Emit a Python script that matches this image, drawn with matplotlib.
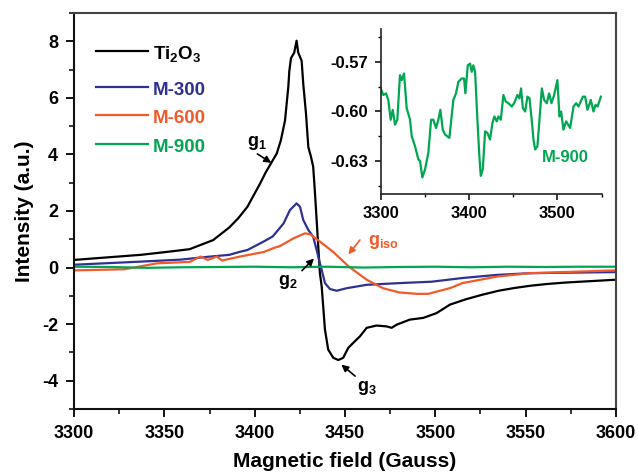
import matplotlib
matplotlib.use("Agg")
import matplotlib.pyplot as plt
from matplotlib.ticker import MultipleLocator
from matplotlib.lines import Line2D

plt.rcParams['font.family'] = ['Liberation Sans', 'DejaVu Sans']
plt.rcParams['font.weight'] = 'bold'
plt.rcParams['axes.unicode_minus'] = False
plt.rcParams['mathtext.fontset'] = 'custom'
plt.rcParams['mathtext.bf'] = 'Liberation Sans:bold'
plt.rcParams['mathtext.rm'] = 'Liberation Sans:bold'
plt.rcParams['mathtext.it'] = 'Liberation Sans:bold'
plt.rcParams['mathtext.default'] = 'bf'

# ---------------- data ----------------
ti_x = [3300, 3337, 3355, 3364, 3377, 3386, 3391, 3396, 3403, 3406, 3410, 3412.2,
        3414.5, 3416.8, 3417.7, 3418.6, 3419.2, 3420.1, 3421.9, 3423.2, 3424.1, 3426.0,
        3426.9, 3428.4, 3429.7, 3431.2, 3432.4, 3433.4, 3434.3, 3435.2, 3436.1, 3437.1,
        3438.9, 3440.7, 3443.5, 3446.3, 3449.0, 3451.8, 3454.6, 3458.3, 3462.0, 3467.5,
        3473.0, 3475.8, 3478.6, 3485.9, 3493.3, 3500.7, 3508.1, 3517, 3526, 3535, 3544,
        3553, 3562, 3572, 3586, 3600]
ti_y = [0.27, 0.45, 0.58, 0.65, 0.97, 1.42, 1.75, 2.15, 2.97, 3.35, 3.79, 4.03,
        4.5, 5.2, 5.79, 6.37, 6.96, 7.4, 7.6, 8.02, 7.6, 7.31,
        6.49, 5.45, 4.26, 3.91, 3.56, 2.62, 1.68, 0.74, -0.19, -0.67,
        -2.19, -2.9, -3.19, -3.27, -3.19, -2.84, -2.66, -2.43, -2.13, -2.05,
        -2.08, -2.13, -2.02, -1.84, -1.78, -1.61, -1.31, -1.12, -0.96, -0.82, -0.72,
        -0.64, -0.58, -0.53, -0.48, -0.43]

m300_x = [3300, 3337, 3359, 3374, 3386, 3392, 3396, 3405, 3410, 3416, 3419.5, 3423.2,
          3425.1, 3426.9, 3429.7, 3432.4, 3434.3, 3436.1, 3437.1, 3438.9, 3441.7, 3445.4,
          3450.9, 3462, 3480, 3498, 3515, 3534, 3552, 3575, 3600]
m300_y = [0.1, 0.21, 0.28, 0.38, 0.45, 0.56, 0.62, 0.92, 1.1, 1.56, 2.03, 2.27,
          2.15, 1.68, 1.33, 1.09, 0.62, 0.15, -0.08, -0.55, -0.76, -0.82,
          -0.73, -0.61, -0.55, -0.5, -0.37, -0.26, -0.2, -0.18, -0.16]

m600_x = [3300, 3328, 3346, 3364, 3370, 3374, 3379, 3382, 3392, 3405, 3411, 3414,
          3421.4, 3427.8, 3430.6, 3436.1, 3443.5, 3452, 3462, 3471, 3480, 3490, 3496,
          3508, 3515, 3534, 3552, 3571, 3600]
m600_y = [-0.1, -0.06, 0.15, 0.2, 0.39, 0.27, 0.39, 0.25, 0.39, 0.55, 0.7, 0.76,
          1.03, 1.21, 1.18, 0.92, 0.55, 0.04, -0.43, -0.73, -0.88, -0.93, -0.93,
          -0.73, -0.55, -0.32, -0.2, -0.16, -0.1]

m900_x = [3300, 3320, 3340, 3360, 3380, 3400, 3420, 3440, 3460, 3480, 3500, 3520,
          3540, 3560, 3580, 3600]
m900_y = [0.03, 0.02, -0.01, 0.01, 0.02, 0.03, 0.01, 0.03, 0.0, 0.02, 0.03, 0.01,
          0.03, 0.02, 0.03, 0.03]

ins_x = [3300, 3303, 3306, 3308.6, 3311.3, 3313.6, 3316.2, 3318.8, 3321.8, 3323.8,
         3326.4, 3329.4, 3333.2, 3335.1, 3338.8, 3342.6, 3344.5, 3347.1, 3350.2, 3353.9,
         3357, 3359.6, 3362.6, 3365.2, 3367.5, 3370.2, 3372.8, 3377.7, 3382.2, 3385.2,
         3387.9, 3391.7, 3394.3, 3395.8, 3398.5, 3401.1, 3403, 3404.8, 3406.8, 3409.4,
         3411.6, 3413.2, 3415.5, 3418.1, 3420.7, 3423.7, 3426.4, 3428.6, 3431.3, 3433.2,
         3435.9, 3438.8, 3441.5, 3444.5, 3448.3, 3450.9, 3454.7, 3456.9, 3458.8, 3460.8,
         3463.4, 3466, 3468.3, 3471, 3472.8, 3474.7, 3477.3, 3479.6, 3482.3, 3484.9,
         3487.9, 3490.5, 3493.2, 3496.2, 3499.9, 3502.2, 3504.1, 3506.7, 3509.8, 3514.3,
         3518.1, 3521.1, 3523.7, 3528.7, 3531.3, 3533.9, 3537.7, 3540.7, 3543, 3545.3,
         3549.1]
ins_y = [-0.586, -0.590, -0.589, -0.593, -0.605, -0.599, -0.608, -0.605, -0.578, -0.581,
         -0.577, -0.598, -0.605, -0.615, -0.621, -0.629, -0.630, -0.640, -0.635, -0.625,
         -0.605, -0.605, -0.610, -0.605, -0.599, -0.611, -0.614, -0.616, -0.593, -0.589,
         -0.582, -0.580, -0.580, -0.589, -0.572, -0.571, -0.576, -0.572, -0.576, -0.605,
         -0.627, -0.639, -0.635, -0.612, -0.613, -0.617, -0.607, -0.603, -0.606, -0.603,
         -0.605, -0.590, -0.594, -0.595, -0.597, -0.595, -0.590, -0.592, -0.586, -0.598,
         -0.600, -0.591, -0.592, -0.606, -0.617, -0.623, -0.621, -0.605, -0.586, -0.593,
         -0.595, -0.589, -0.595, -0.590, -0.581, -0.603, -0.600, -0.611, -0.606, -0.610,
         -0.597, -0.595, -0.597, -0.591, -0.591, -0.599, -0.593, -0.600, -0.596, -0.597,
         -0.591]

labels = ['Ti$_2$O$_3$', 'M-300', 'M-600', 'M-900']
colors = ['#000000', '#2E3192', '#F15A29', '#00A651']

# ---------------- figure ----------------
fig = plt.figure(figsize=(6.38, 4.72), dpi=100)
ax = fig.add_axes([0.116, 0.1335, 0.8495, 0.839])

for xs, ys, lab, c in zip([ti_x, m300_x, m600_x, m900_x],
                          [ti_y, m300_y, m600_y, m900_y], labels, colors):
    ax.plot(xs, ys, color=c, lw=1.6, label=lab)

ax.set_xlim(3300, 3600)
ax.set_ylim(-5, 9)
ax.xaxis.set_major_locator(MultipleLocator(50))
ax.xaxis.set_minor_locator(MultipleLocator(25))
ax.yaxis.set_major_locator(MultipleLocator(2))
ax.yaxis.set_minor_locator(MultipleLocator(1))
ax.tick_params(which='major', direction='out', length=5.5, width=1.3, labelsize=13, pad=6)
ax.tick_params(which='minor', direction='out', length=3.5, width=1.1)
for s in ['left', 'bottom']:
    ax.spines[s].set_linewidth(1.5)
    ax.spines[s].set_color('#111111')
for s in ['top', 'right']:
    ax.spines[s].set_linewidth(1.5)
    ax.spines[s].set_color('#444444')
for t in ax.get_xticklabels() + ax.get_yticklabels():
    t.set_fontweight('bold')

ax.set_xlabel('Magnetic field (Gauss)', fontsize=15, fontweight='bold', labelpad=7.5)
ax.set_ylabel('Intensity (a.u.)', fontsize=15, fontweight='bold', labelpad=6)

# legend (drawn as handles in axes coordinates)
leg_y = [0.904, 0.813, 0.742, 0.669]
for lab, c, yy in zip(labels, colors, leg_y):
    ax.add_line(Line2D([0.0406, 0.1365], [yy, yy], transform=ax.transAxes,
                       color=c, lw=1.6))
    ax.text(0.1458, yy - 0.021, lab, transform=ax.transAxes, color=c,
            fontsize=13.5, fontweight='bold', ha='left', va='baseline')

arrow = dict(arrowstyle='-|>', color='black', lw=1.2, mutation_scale=10)
ax.annotate('', xy=(3410.5, 3.65), xytext=(3400.2, 4.07), arrowprops=arrow)
ax.text(3401.5, 4.4, 'g$_1$', fontsize=13, fontweight='bold', ha='center', va='center')
ax.annotate('', xy=(3433.9, 0.39), xytext=(3425.1, -0.18), arrowprops=arrow)
ax.text(3418.5, -0.5, 'g$_2$', fontsize=13, fontweight='bold', ha='center', va='center')
ax.annotate('', xy=(3446.8, -3.37), xytext=(3456.8, -3.9), arrowprops=arrow)
ax.text(3462, -4.25, 'g$_3$', fontsize=13, fontweight='bold', ha='center', va='center')
arrow_o = dict(arrowstyle='-|>', color='#F15A29', lw=1.2, mutation_scale=10)
ax.annotate('', xy=(3450.9, 0.39), xytext=(3459.2, 1.05), arrowprops=arrow_o)
ax.text(3462.5, 0.92, 'g$_{iso}$', fontsize=13, fontweight='bold', color='#F15A29',
        ha='left', va='center')

# ---------------- inset ----------------
ins = fig.add_axes([0.5967, 0.589, 0.3464, 0.3496])
ins.plot(ins_x, ins_y, color='#00A651', lw=1.6)
ins.set_xlim(3300, 3550)
ins.set_ylim(-0.65, -0.55)
ins.xaxis.set_major_locator(MultipleLocator(100))
ins.xaxis.set_minor_locator(MultipleLocator(50))
ins.set_yticks([-0.63, -0.60, -0.57])
ins.set_yticklabels(['-0.63', '-0.60', '-0.57'])
ins.set_yticks([-0.645, -0.615, -0.585, -0.555], minor=True)
ins.tick_params(which='major', direction='out', length=4, width=1.1, labelsize=12, pad=5)
ins.tick_params(which='minor', direction='out', length=2.5, width=1.0)
ins.spines['top'].set_visible(False)
ins.spines['right'].set_visible(False)
for s in ['left', 'bottom']:
    ins.spines[s].set_linewidth(1.2)
    ins.spines[s].set_color('#222222')
for t in ins.get_xticklabels() + ins.get_yticklabels():
    t.set_fontweight('bold')
ins.text(3482, -0.6276, 'M-900', fontsize=12, fontweight='bold', color='#00A651',
         ha='left', va='center')

fig.savefig('out.png', dpi=100)
